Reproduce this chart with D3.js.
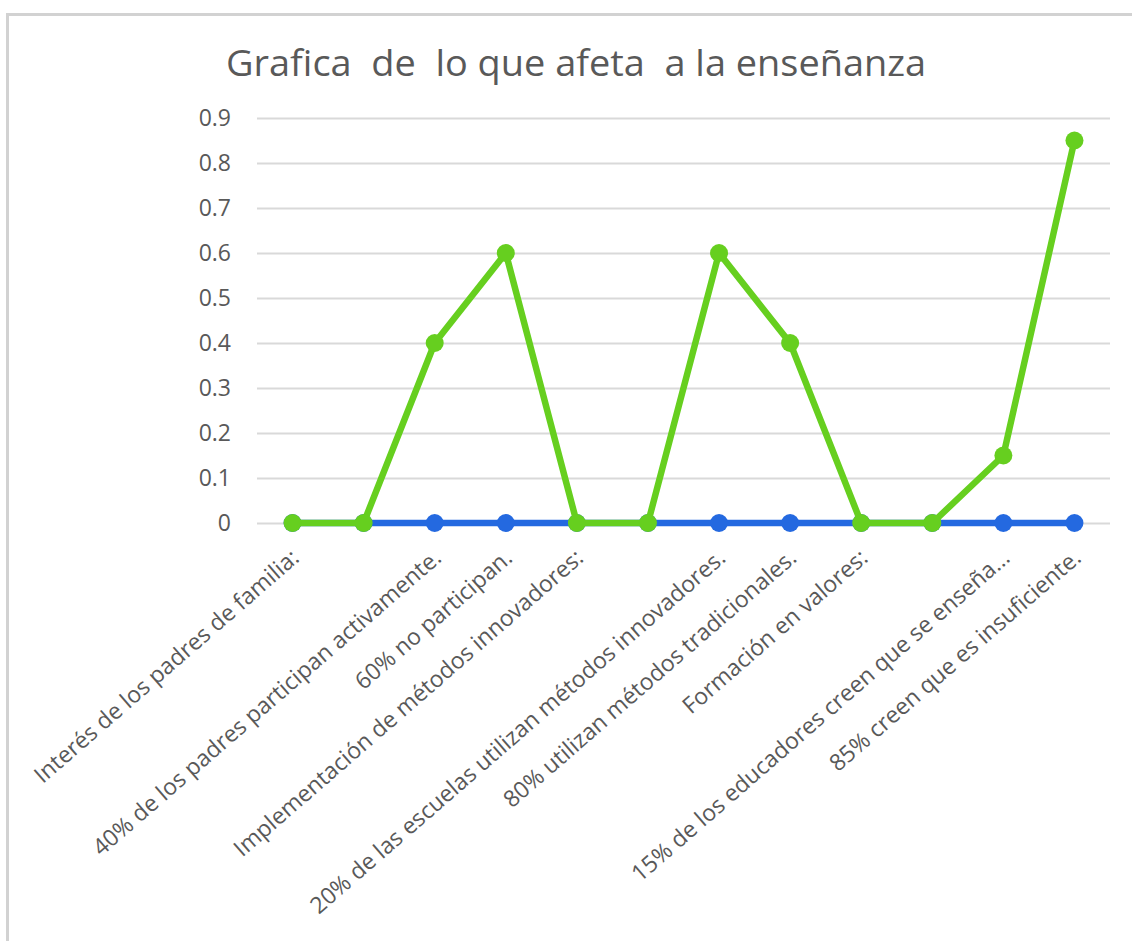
<!DOCTYPE html>
<html><head><meta charset="utf-8">
<script src="https://cdn.jsdelivr.net/npm/d3@7"></script>
<style>body{margin:0;background:#fff} svg{display:block}</style>
</head><body><svg id="c" width="1132" height="941"></svg>
<script>
const titleText = "Grafica  de  lo que afeta  a la enseñanza";
const categories = [
  "Interés de los padres de familia:",
  "",
  "40% de los padres participan activamente.",
  "60% no participan.",
  "Implementación de métodos innovadores:",
  "",
  "20% de las escuelas utilizan métodos innovadores.",
  "80% utilizan métodos tradicionales.",
  "Formación en valores:",
  "",
  "15% de los educadores creen que se enseña...",
  "85% creen que es insuficiente."
];
const serieAzul  = [0, 0, 0, 0, 0, 0, 0, 0, 0, 0, 0, 0];
const serieVerde = [0, 0, 0.4, 0.6, 0, 0, 0.6, 0.4, 0, 0, 0.15, 0.85];
const yTicks = [0, 0.1, 0.2, 0.3, 0.4, 0.5, 0.6, 0.7, 0.8, 0.9];
const yTickLabels = ["0", "0.1", "0.2", "0.3", "0.4", "0.5", "0.6", "0.7", "0.8", "0.9"];

const svg = d3.select("#c");
const FONT = "'Open Sans', 'Noto Sans', sans-serif";
const TXT = "#595959";
const plot = {left: 257, right: 1110, top: 118, bottom: 523};

// frame
svg.append("path").attr("d", "M7.5,941 V14.5 H1132")
  .attr("fill", "none").attr("stroke", "#d2d2d2").attr("stroke-width", 3);

// title
svg.append("text").attr("x", 576).attr("y", 76)
  .attr("text-anchor", "middle").attr("font-family", FONT).attr("font-size", 37)
  .attr("fill", TXT).style("white-space", "pre")
  .attr("textLength", 700).attr("lengthAdjust", "spacingAndGlyphs")
  .text(titleText);

const x = d3.scaleBand().domain(d3.range(categories.length)).range([plot.left, plot.right]).padding(0);
const cx = i => x(i) + x.bandwidth() / 2;
const y = d3.scaleLinear().domain([0, 0.9]).range([plot.bottom, plot.top]);

// gridlines + y labels
const yAxis = d3.axisLeft(y).tickValues(yTicks)
  .tickFormat((d, i) => yTickLabels[i])
  .tickSize(-(plot.right - plot.left)).tickPadding(26);
const gy = svg.append("g").attr("transform", `translate(${plot.left},0)`).call(yAxis);
gy.select(".domain").remove();
gy.selectAll(".tick line").attr("stroke", "#d9d9d9").attr("stroke-width", 2);
gy.selectAll(".tick text").attr("fill", TXT).attr("font-family", FONT).attr("font-size", 23);

// x labels
svg.append("g").selectAll("text").data(categories).join("text")
  .attr("transform", (d, i) => `translate(${cx(i) + 8},${560}) rotate(-41)`)
  .attr("text-anchor", "end")
  .attr("font-family", FONT).attr("font-size", 23).attr("fill", TXT)
  .text(d => d);

const line = d3.line().x((d, i) => cx(i)).y(d => y(d));

function drawSeries(vals, color) {
  const g = svg.append("g");
  g.append("path").datum(vals).attr("d", line)
    .attr("fill", "none").attr("stroke", color).attr("stroke-width", 6.5)
    .attr("stroke-linejoin", "round");
  g.selectAll("circle").data(vals).join("circle")
    .attr("cx", (d, i) => cx(i)).attr("cy", d => y(d)).attr("r", 9)
    .attr("fill", color);
}
drawSeries(serieAzul, "#2469e0");
drawSeries(serieVerde, "#66cf1f");
</script></body></html>
